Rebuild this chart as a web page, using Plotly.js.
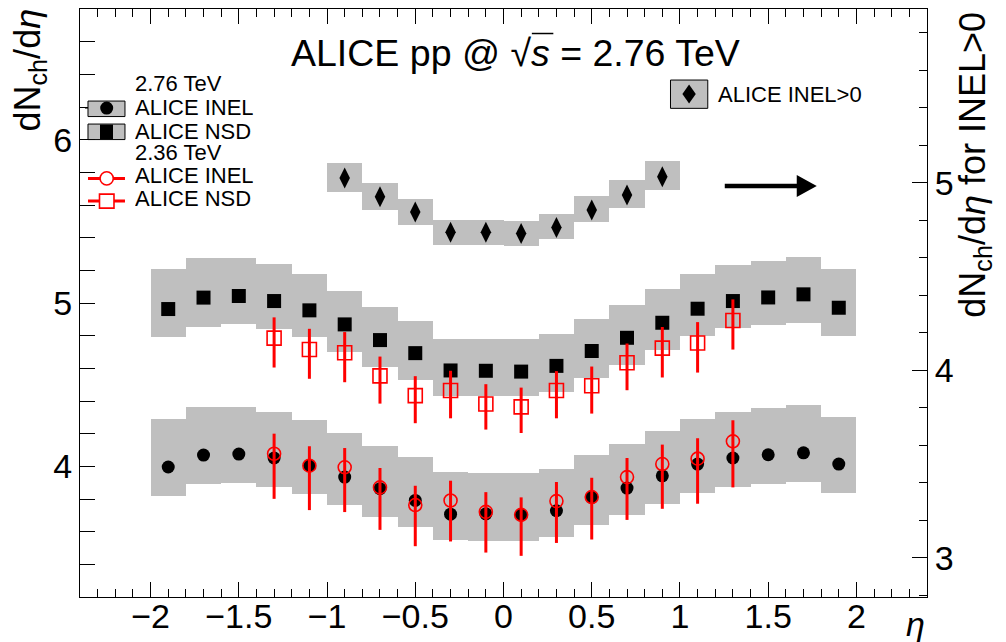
<!DOCTYPE html>
<html>
<head>
<meta charset="utf-8">
<script src="https://cdn.plot.ly/plotly-3.0.1.min.js"></script>
<style>html,body{margin:0;padding:0;background:#fff;}#chart{width:1006px;height:642px;}</style>
</head>
<body>
<div id="chart"></div>
<script>
// ---------- data ----------
const eta276 = [-1.9,-1.7,-1.5,-1.3,-1.1,-0.9,-0.7,-0.5,-0.3,-0.1,0.1,0.3,0.5,0.7,0.9,1.1,1.3,1.5,1.7,1.9];
const nsd276 = [4.963,5.033,5.043,5.012,4.955,4.869,4.773,4.693,4.587,4.585,4.580,4.615,4.706,4.787,4.879,4.965,5.012,5.034,5.053,4.971];
const nsd276SysHi = [5.209,5.274,5.274,5.237,5.175,5.075,4.977,4.891,4.779,4.779,4.777,4.812,4.904,4.990,5.086,5.180,5.235,5.260,5.284,5.210];
const nsd276SysLo = [4.789,4.856,4.869,4.838,4.789,4.703,4.609,4.531,4.431,4.431,4.429,4.458,4.542,4.623,4.715,4.798,4.844,4.865,4.875,4.801];
const inel276 = [3.996,4.069,4.075,4.051,4.004,3.934,3.863,3.791,3.707,3.709,3.703,3.728,3.810,3.867,3.942,4.014,4.051,4.071,4.083,4.014];
const inel276SysHi = [4.290,4.364,4.364,4.333,4.284,4.204,4.125,4.057,3.965,3.959,3.959,3.984,4.070,4.137,4.217,4.290,4.333,4.358,4.376,4.303];
const inel276SysLo = [3.820,3.893,3.899,3.875,3.832,3.764,3.691,3.629,3.550,3.544,3.544,3.568,3.642,3.703,3.770,3.838,3.875,3.893,3.906,3.838];

const eta236 = [-1.3,-1.1,-0.9,-0.7,-0.5,-0.3,-0.1,0.1,0.3,0.5,0.7,0.9,1.1,1.3];
const inel236 = [4.077,4.004,3.994,3.871,3.763,3.791,3.721,3.703,3.787,3.812,3.934,4.014,4.047,4.153];
const inel236Hi = [4.200,4.123,4.112,3.990,3.881,3.912,3.842,3.810,3.904,3.930,4.051,4.133,4.172,4.282];
const inel236Lo = [3.801,3.732,3.720,3.611,3.511,3.540,3.472,3.452,3.531,3.552,3.672,3.740,3.771,3.871];
const nsd236 = [4.785,4.715,4.695,4.554,4.433,4.464,4.382,4.364,4.464,4.493,4.634,4.724,4.755,4.893];
const nsd236Hi = [4.912,4.842,4.822,4.672,4.552,4.585,4.503,4.482,4.583,4.611,4.752,4.853,4.883,5.022];
const nsd236Lo = [4.605,4.536,4.515,4.384,4.264,4.294,4.225,4.204,4.294,4.323,4.466,4.544,4.574,4.715];

const etaGt0 = [-0.9,-0.7,-0.5,-0.3,-0.1,0.1,0.3,0.5,0.7,0.9];
const inelGt0 = [5.026,4.926,4.844,4.737,4.737,4.730,4.762,4.855,4.935,5.033];
const inelGt0SysHi = [5.104,4.997,4.912,4.801,4.801,4.798,4.833,4.929,5.015,5.116];
const inelGt0SysLo = [4.952,4.858,4.776,4.669,4.669,4.664,4.698,4.792,4.867,4.963];

const binWidth = 0.2;
const xTickVals = [-2,-1.5,-1,-0.5,0,0.5,1,1.5,2];
const xTickLabels = ['−2','−1.5','−1','−0.5','0','0.5','1','1.5','2'];

// ---------- styles ----------
const GRAY = '#bfbfbf';
const RED = '#ff0000';
const FONT = 'Liberation Sans, Arial, sans-serif';

function sysBars(x, lo, hi, yaxis) {
  return {
    type: 'bar', x: x, base: lo, y: hi.map((h, i) => h - lo[i]),
    width: x.map(() => binWidth), yaxis: yaxis,
    marker: {color: GRAY, line: {width: 0}}, hoverinfo: 'skip', showlegend: false
  };
}
function errPlus(v, hi) { return hi.map((h, i) => h - v[i]); }
function errMinus(v, lo) { return lo.map((l, i) => v[i] - l); }

const traces = [
  sysBars(eta276, inel276SysLo, inel276SysHi, 'y'),
  sysBars(eta276, nsd276SysLo, nsd276SysHi, 'y'),
  {type: 'scatter', mode: 'markers', x: eta276, y: inel276, yaxis: 'y',
   marker: {symbol: 'circle', size: 13, color: '#000'}, hoverinfo: 'skip', showlegend: false},
  {type: 'scatter', mode: 'markers', x: eta276, y: nsd276, yaxis: 'y',
   marker: {symbol: 'square', size: 14, color: '#000'}, hoverinfo: 'skip', showlegend: false},
  {type: 'scatter', mode: 'markers', x: eta236, y: inel236, yaxis: 'y',
   error_y: {type: 'data', symmetric: false, array: errPlus(inel236, inel236Hi), arrayminus: errMinus(inel236, inel236Lo),
             color: RED, thickness: 3, width: 0},
   marker: {symbol: 'circle-open', size: 13, color: RED, line: {width: 1.6, color: RED}}, hoverinfo: 'skip', showlegend: false},
  {type: 'scatter', mode: 'markers', x: eta236, y: nsd236, yaxis: 'y',
   error_y: {type: 'data', symmetric: false, array: errPlus(nsd236, nsd236Hi), arrayminus: errMinus(nsd236, nsd236Lo),
             color: RED, thickness: 3, width: 0},
   marker: {symbol: 'square-open', size: 14, color: RED, line: {width: 1.6, color: RED}}, hoverinfo: 'skip', showlegend: false},
  sysBars(etaGt0, inelGt0SysLo, inelGt0SysHi, 'y2'),
  {type: 'scatter', mode: 'markers', x: etaGt0, y: inelGt0, yaxis: 'y2',
   marker: {symbol: 'diamond-tall', size: 15, color: '#000'}, hoverinfo: 'skip', showlegend: false}
];

// ---------- pixel helpers for decorations (legend, title, arrow) ----------
const L = 80, R = 927.3, T = 9, B = 596.7;
const PX = p => (p - L) / (R - L);
const PY = p => (B - p) / (B - T);

const shapes = [];
const annotations = [];
function rectPx(x0, y0, x1, y1, fill, lineColor, lw) {
  shapes.push({type: 'rect', xref: 'paper', yref: 'paper', x0: PX(x0), x1: PX(x1), y0: PY(y1), y1: PY(y0),
    fillcolor: fill, line: {color: lineColor || fill, width: lw === undefined ? 1 : lw}, layer: 'above'});
}
function linePx(x0, y0, x1, y1, color, w) {
  shapes.push({type: 'line', xref: 'paper', yref: 'paper', x0: PX(x0), x1: PX(x1), y0: PY(y0), y1: PY(y1),
    line: {color: color, width: w}, layer: 'above'});
}
function circlePx(cx, cy, r, fill, lineColor, lw) {
  shapes.push({type: 'circle', xref: 'paper', yref: 'paper', x0: PX(cx - r), x1: PX(cx + r), y0: PY(cy + r), y1: PY(cy - r),
    fillcolor: fill, line: {color: lineColor, width: lw}, layer: 'above'});
}
function pathPx(pts, fill) {
  let d = pts.map((p, i) => (i ? 'L' : 'M') + PX(p[0]) + ',' + PY(p[1])).join(' ') + ' Z';
  shapes.push({type: 'path', xref: 'paper', yref: 'paper', path: d, fillcolor: fill, line: {width: 0}, layer: 'above'});
}
function textPx(x, y, text, size, xanchor, extra) {
  annotations.push(Object.assign({xref: 'paper', yref: 'paper', x: PX(x), y: PY(y), text: text, showarrow: false,
    xanchor: xanchor || 'left', yanchor: 'middle', font: {family: FONT, size: size, color: '#000'}}, extra || {}));
}

// Left legend
const legendX = 133, LS = 22;
textPx(legendX, 83, '2.76 TeV', LS, 'left', {height: 20});
textPx(legendX, 107, 'ALICE INEL', LS, 'left', {height: 20});
textPx(legendX, 131, 'ALICE NSD', LS, 'left', {height: 20});
textPx(legendX, 152, '2.36 TeV', LS, 'left', {height: 20});
textPx(legendX, 175, 'ALICE INEL', LS, 'left', {height: 20});
textPx(legendX, 198, 'ALICE NSD', LS, 'left', {height: 20});
linePx(85, 108, 88, 108, '#000', 1);
rectPx(88, 101, 125, 116.5, GRAY, '#000', 1);
circlePx(106.7, 108, 6.5, '#000', '#000', 0);
rectPx(88, 124, 125, 139.5, GRAY, '#000', 1);
rectPx(100, 124.5, 113, 139, '#000', '#000', 0);
linePx(88, 178.3, 125, 178.3, RED, 3);
circlePx(106.7, 178.3, 6.6, '#fff', RED, 1.6);
linePx(88, 201, 125, 201, RED, 3);
rectPx(99.5, 194, 114, 208, '#fff', RED, 1.6);

// Right legend
rectPx(670.7, 80, 708, 108.3, GRAY, '#000', 1);
pathPx([[689.3, 84.5], [696, 94], [689.3, 103.5], [682.6, 94]], '#000');
textPx(716, 94, 'ALICE INEL&gt;0', LS);

// Arrow pointing to right axis
linePx(725, 186, 799, 186, '#000', 4.5);
pathPx([[797, 175], [817, 186], [797, 197]], '#000');

// Title
textPx(516, 53, 'ALICE pp @ √<i>s</i> = 2.76 TeV', 37.5, 'center');
linePx(532, 33.5, 553.5, 33.5, '#000', 1.5);

// Axis titles
textPx(30, 7, 'dN<sub>ch</sub>/d<i>η</i>', 36, 'center', {textangle: -90, yanchor: 'top'});
textPx(975, 10, 'dN<sub>ch</sub>/d<i>η</i> for INEL&gt;0', 36, 'center', {textangle: -90, yanchor: 'top'});
textPx(927, 624, '<i>η</i>', 34, 'right');

const tickFont = {family: FONT, size: 34, color: '#000'};
const layout = {
  width: 1006, height: 642,
  margin: {l: L, r: 1006 - R, t: T, b: 642 - B, pad: 0},
  paper_bgcolor: '#fff', plot_bgcolor: '#fff',
  showlegend: false, barmode: 'overlay', bargap: 0,
  font: {family: FONT, color: '#000'},
  xaxis: {
    range: [-2.4, 2.4], tickmode: 'array', tickvals: xTickVals, ticktext: xTickLabels,
    ticks: 'inside', ticklen: 15, tickwidth: 1, tickcolor: '#000',
    minor: {dtick: 0.1, tick0: 0, ticks: 'inside', ticklen: 8, tickwidth: 1, tickcolor: '#000', showgrid: false},
    showline: true, linecolor: '#000', linewidth: 1, mirror: 'ticks',
    showgrid: false, zeroline: false, tickfont: tickFont, ticklabelstandoff: -11
  },
  yaxis: {
    range: [3.2, 6.8], tickmode: 'linear', tick0: 0, dtick: 1,
    ticks: 'inside', ticklen: 15, tickwidth: 1, tickcolor: '#000',
    minor: {dtick: 0.2, tick0: 0, ticks: 'inside', ticklen: 15, tickwidth: 1, tickcolor: '#000', showgrid: false},
    showline: true, linecolor: '#000', linewidth: 1, mirror: false,
    showgrid: false, zeroline: false, tickfont: tickFont
  },
  yaxis2: {
    overlaying: 'y', side: 'right', range: [2.79, 5.928], tickmode: 'linear', tick0: 0, dtick: 1,
    ticks: 'inside', ticklen: 15, tickwidth: 1, tickcolor: '#000',
    minor: {dtick: 0.2, tick0: 0, ticks: 'inside', ticklen: 8, tickwidth: 1, tickcolor: '#000', showgrid: false},
    showline: true, linecolor: '#000', linewidth: 1,
    showgrid: false, zeroline: false, tickfont: tickFont
  },
  shapes: shapes,
  annotations: annotations
};

Plotly.newPlot('chart', traces, layout, {staticPlot: true, displayModeBar: false});
</script>
</body>
</html>
